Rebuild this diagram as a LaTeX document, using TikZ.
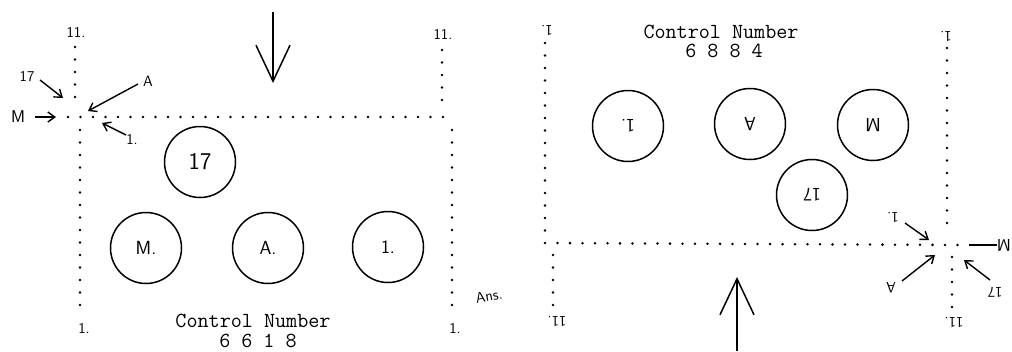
\documentclass[tikz,border=0pt]{standalone}
\usetikzlibrary{arrows.meta}
\begin{document}
\begin{tikzpicture}[x=1pt,y=-1pt,
  dotline/.style={line width=2.8pt, line cap=round, dash pattern=on 0pt off 12.5pt},
  ring/.style={circle, draw, line width=1.5pt, minimum size=71pt, inner sep=0pt},
  ringtxt/.style={font=\sffamily\fontsize{19}{19}\selectfont},
  bigtxt/.style={font=\sffamily\fontsize{24}{24}\selectfont},
  hand/.style={font=\sffamily\fontsize{15}{15}\selectfont, inner sep=1pt},
  arr/.style={line width=1.4pt, -{Straight Barb[length=7pt,width=10pt]}},
  plainline/.style={line width=1.4pt},
  bigarr/.style={line width=1.5pt, -{Straight Barb[length=36pt,width=34pt]}},
  typew/.style={font=\ttfamily\fontsize{21.5}{21.5}\selectfont, anchor=base, inner sep=0pt}]
\useasboundingbox (0,0) rectangle (1012,351);

% ---------------- left block ----------------
\coordinate (lh1) at (68,117); \coordinate (lh2) at (452,117);
\draw[dotline] (lh1) -- (lh2);
\coordinate (lv1a) at (75,47);  \coordinate (lv1b) at (75,107);
\draw[dotline] (lv1a) -- (lv1b);
\coordinate (lv2a) at (80,130); \coordinate (lv2b) at (80,315);
\draw[dotline] (lv2a) -- (lv2b);
\coordinate (lv3a) at (442,50); \coordinate (lv3b) at (442,108);
\draw[dotline] (lv3a) -- (lv3b);
\coordinate (lv4a) at (452,130); \coordinate (lv4b) at (452,315);
\draw[dotline] (lv4a) -- (lv4b);

\node[hand] (l11a) at (76,32) {11.};
\node[hand] (l11b) at (443,34) {11.};
\node[hand] (l1a) at (84,328) {1.};
\node[hand] (l1b) at (455,328) {1.};
\node[hand, rotate=10] (lans) at (489,296) {Ans.};

\node[ring, bigtxt] (c17) at (200,162) {17};
\node[ring, ringtxt] (cM) at (146,248) {M.};
\node[ring, ringtxt] (cA) at (268,248) {A.};
\node[ring, ringtxt] (c1) at (388,247) {1.};

\node[typew] (ctlL) at (253,327) {Control Number};
\node[typew] (numL) at (258,347) {6 6 1 8};

% small arrows, left
\node[hand, font=\sffamily\fontsize{17}{17}\selectfont] (aM) at (18,117) {M};
\coordinate (aM1) at (35,117); \coordinate (aM2) at (56,117);
\draw[arr] (aM1) -- (aM2);
\node[hand] (a17) at (27,77) {17};
\coordinate (a171) at (40,80); \coordinate (a172) at (63,98);
\draw[arr] (a171) -- (a172);
\node[hand] (aA) at (148,81) {A};
\coordinate (aA1) at (138,84); \coordinate (aA2) at (88,111);
\draw[arr] (aA1) -- (aA2);
\node[hand] (a1) at (132,139) {1.};
\coordinate (a11) at (126,135); \coordinate (a12) at (102,123);
\draw[arr] (a11) -- (a12);

\coordinate (bigL1) at (273,12); \coordinate (bigL2) at (273,83);
\draw[bigarr] (bigL1) -- (bigL2);

% ---------------- right block ----------------
\coordinate (rh1) at (545,243); \coordinate (rh2) at (958,245);
\draw[dotline] (rh1) -- (rh2);
\coordinate (rv1a) at (545,43);  \coordinate (rv1b) at (545,232);
\draw[dotline] (rv1a) -- (rv1b);
\coordinate (rv2a) at (553,255); \coordinate (rv2b) at (553,307);
\draw[dotline] (rv2a) -- (rv2b);
\coordinate (rv3a) at (947,48);  \coordinate (rv3b) at (947,233);
\draw[dotline] (rv3a) -- (rv3b);
\coordinate (rv4a) at (952,257); \coordinate (rv4b) at (952,312);
\draw[dotline] (rv4a) -- (rv4b);

\node[hand, rotate=180] (r1a) at (547,31) {1.};
\node[hand, rotate=180] (r1b) at (946,37) {1.};
\node[hand, rotate=180] (r11a) at (557,322) {11.};
\node[hand, rotate=180] (r11b) at (954,323) {11.};

\node[ring, ringtxt, rotate=180] (d1) at (628,126) {1.};
\node[ring, ringtxt, rotate=180] (dA) at (750,124) {A};
\node[ring, ringtxt, rotate=180] (dM) at (873,125) {M};
\node[ring, ringtxt, rotate=180] (d17) at (812,195) {17};

\node[typew] (ctlR) at (721,38) {Control Number};
\node[typew] (numR) at (724,57.5) {6 8 8 4};

% small arrows, right
\node[hand, rotate=180] (b1) at (893,218) {1.};
\coordinate (b11) at (905,223); \coordinate (b12) at (929,240);
\draw[arr] (b11) -- (b12);
\node[hand, rotate=180] (bA) at (891,288) {A};
\coordinate (bA1) at (902,281); \coordinate (bA2) at (935,255);
\draw[arr] (bA1) -- (bA2);
\node[hand, rotate=180] (b17) at (995,292) {17};
\coordinate (b171) at (990,280); \coordinate (b172) at (964,260);
\draw[arr] (b171) -- (b172);
\node[hand, rotate=180, font=\sffamily\fontsize{17}{17}\selectfont] (bM) at (1004,245) {M};
\coordinate (bM1) at (969,245); \coordinate (bM2) at (997,245);
\draw[plainline] (bM1) -- (bM2);

\coordinate (bigR1) at (737,351); \coordinate (bigR2) at (737,277);
\draw[bigarr] (bigR1) -- (bigR2);
\end{tikzpicture}
\end{document}
